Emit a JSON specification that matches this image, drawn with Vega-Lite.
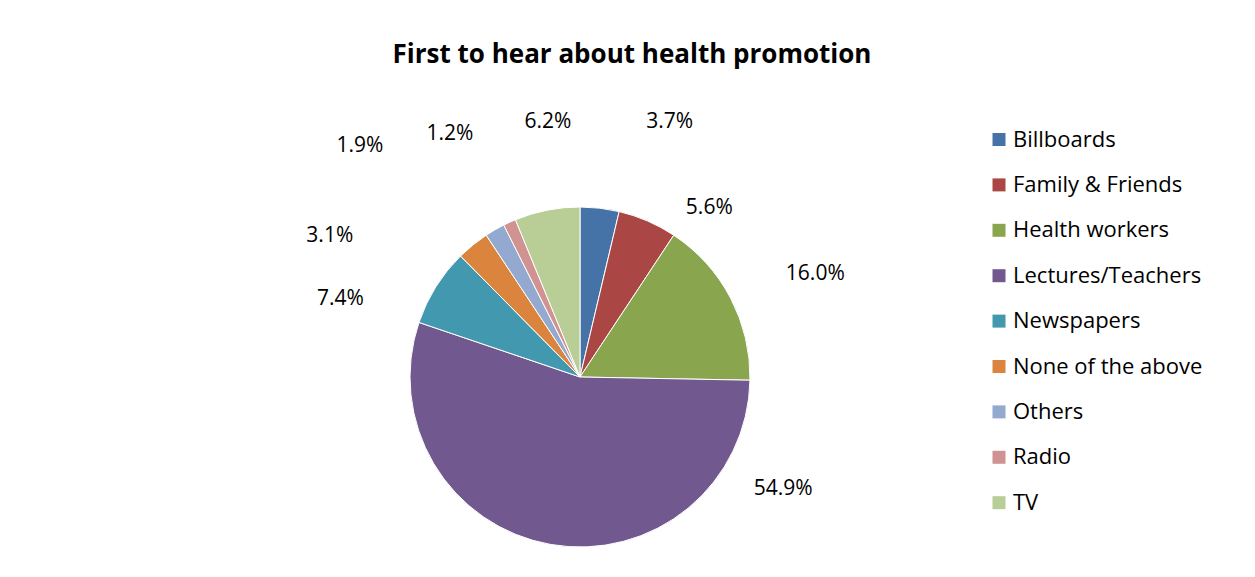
{
  "$schema": "https://vega.github.io/schema/vega-lite/v6.json",
  "autosize": {"type": "none"},
  "width": 1160,
  "height": 400,
  "padding": {"left": 0, "top": 177, "right": 95, "bottom": 0},
  "background": "white",
  "config": {"view": {"stroke": null}, "font": "Open Sans"},
  "title": {"text": "First to hear about health promotion", "fontSize": 26, "fontWeight": "bold", "font": "Open Sans", "color": "#000000", "anchor": "middle", "frame": "group", "baseline": "alphabetic", "dx": 52, "offset": -40},
  "data": {"values": [
    {"source": "Billboards", "share": 0.037},
    {"source": "Family & Friends", "share": 0.056},
    {"source": "Health workers", "share": 0.160},
    {"source": "Lectures/Teachers", "share": 0.549},
    {"source": "Newspapers", "share": 0.074},
    {"source": "None of the above", "share": 0.031},
    {"source": "Others", "share": 0.019},
    {"source": "Radio", "share": 0.012},
    {"source": "TV", "share": 0.062}
  ]},
  "encoding": {
    "theta": {"field": "share", "type": "quantitative", "stack": true},
    "order": {"field": "source", "type": "nominal", "sort": "ascending"}
  },
  "layer": [
    {
      "mark": {"type": "arc", "outerRadius": 170, "stroke": "white", "strokeWidth": 1},
      "encoding": {
        "color": {
          "field": "source", "type": "nominal",
          "scale": {
            "domain": ["Billboards", "Family & Friends", "Health workers", "Lectures/Teachers", "Newspapers", "None of the above", "Others", "Radio", "TV"],
            "range": ["#4572A7", "#AA4643", "#89A54E", "#71588F", "#4198AF", "#DB843D", "#93A9CF", "#D19392", "#B9CD96"]
          },
          "legend": {
            "orient": "none", "legendX": 988, "legendY": -48.5, "title": null,
            "symbolType": "square", "symbolSize": 169, "symbolStrokeWidth": 0,
            "labelFontSize": 22, "labelFont": "Open Sans", "labelColor": "#000000", "labelLimit": 300,
            "rowPadding": 23.4, "labelOffset": 3
          }
        }
      }
    },
    {
      "mark": {"type": "text", "radius": 270, "thetaOffset": 0.222, "fontSize": 21, "font": "Open Sans", "color": "#000000"},
      "encoding": {
        "detail": {"field": "source", "type": "nominal"},
        "text": {"condition": {"test": {"field": "source", "oneOf": ["Billboards"]}, "field": "share", "type": "quantitative", "format": ".1%"}, "value": ""}
      }
    },
    {
      "mark": {"type": "text", "radius": 213, "thetaOffset": 0.244, "fontSize": 21, "font": "Open Sans", "color": "#000000"},
      "encoding": {
        "detail": {"field": "source", "type": "nominal"},
        "text": {"condition": {"test": {"field": "source", "oneOf": ["Family & Friends"]}, "field": "share", "type": "quantitative", "format": ".1%"}, "value": ""}
      }
    },
    {
      "mark": {"type": "text", "radius": 257, "thetaOffset": 0.07, "fontSize": 21, "font": "Open Sans", "color": "#000000"},
      "encoding": {
        "detail": {"field": "source", "type": "nominal"},
        "text": {"condition": {"test": {"field": "source", "oneOf": ["Health workers", "TV"]}, "field": "share", "type": "quantitative", "format": ".1%"}, "value": ""}
      }
    },
    {
      "mark": {"type": "text", "radius": 276, "thetaOffset": -0.063, "fontSize": 21, "font": "Open Sans", "color": "#000000"},
      "encoding": {
        "detail": {"field": "source", "type": "nominal"},
        "text": {"condition": {"test": {"field": "source", "oneOf": ["Radio"]}, "field": "share", "type": "quantitative", "format": ".1%"}, "value": ""}
      }
    },
    {
      "mark": {"type": "text", "radius": 232, "thetaOffset": -1.24, "fontSize": 21, "font": "Open Sans", "color": "#000000"},
      "encoding": {
        "detail": {"field": "source", "type": "nominal"},
        "text": {"condition": {"test": {"field": "source", "oneOf": ["Lectures/Teachers"]}, "field": "share", "type": "quantitative", "format": ".1%"}, "value": ""}
      }
    },
    {
      "mark": {"type": "text", "radius": 252, "thetaOffset": -0.244, "fontSize": 21, "font": "Open Sans", "color": "#000000"},
      "encoding": {
        "detail": {"field": "source", "type": "nominal"},
        "text": {"condition": {"test": {"field": "source", "oneOf": ["Newspapers"]}, "field": "share", "type": "quantitative", "format": ".1%"}, "value": ""}
      }
    },
    {
      "mark": {"type": "text", "radius": 287, "thetaOffset": -0.377, "fontSize": 21, "font": "Open Sans", "color": "#000000"},
      "encoding": {
        "detail": {"field": "source", "type": "nominal"},
        "text": {"condition": {"test": {"field": "source", "oneOf": ["None of the above"]}, "field": "share", "type": "quantitative", "format": ".1%"}, "value": ""}
      }
    },
    {
      "mark": {"type": "text", "radius": 319, "thetaOffset": -0.237, "fontSize": 21, "font": "Open Sans", "color": "#000000"},
      "encoding": {
        "detail": {"field": "source", "type": "nominal"},
        "text": {"condition": {"test": {"field": "source", "oneOf": ["Others"]}, "field": "share", "type": "quantitative", "format": ".1%"}, "value": ""}
      }
    }
  ]
}
